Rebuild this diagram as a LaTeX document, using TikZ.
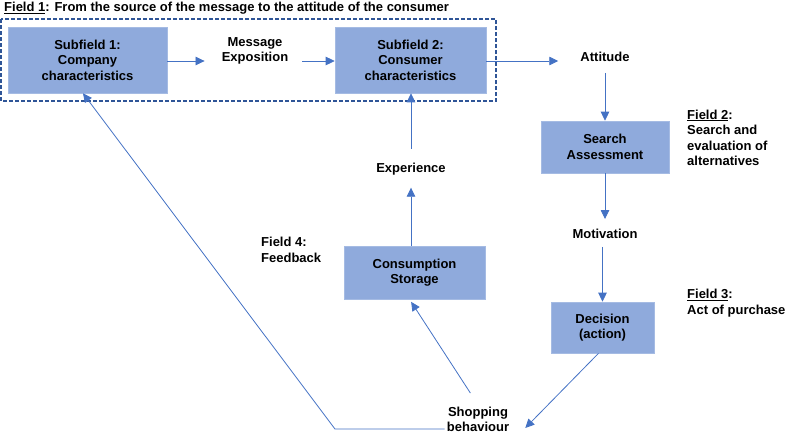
\documentclass[tikz,border=0pt]{standalone}
\usepackage{fontspec}
\setmainfont{Liberation Sans}
\usetikzlibrary{arrows.meta}
\definecolor{boxfill}{HTML}{8FAADC}
\definecolor{arrblue}{HTML}{4472C4}
\definecolor{dashblue}{HTML}{2F5597}
\tikzset{
  stepbox/.style={fill=boxfill, draw=boxfill!80!white, line width=0.6pt, align=center, inner sep=0pt, font=\bfseries\fontsize{13}{15.5}\selectfont},
  lbl/.style={align=center, inner sep=2pt, font=\bfseries\fontsize{13}{15.5}\selectfont},
  lbll/.style={align=left, inner sep=0pt, anchor=north west, font=\bfseries\fontsize{13}{15.5}\selectfont},
  arr/.style={draw=arrblue, line width=0.8pt, -{Triangle[length=9pt,width=8.5pt]}},
}
\begin{document}
\begin{tikzpicture}[x=1pt,y=-1pt]
\useasboundingbox (0,0) rectangle (787,434);
% title
\node[lbll, anchor=west] (title) at (4,8) {\underline{Field 1}: From the source of the message to the attitude of the consumer};
% dashed frame
\draw[dashblue, line width=1.5pt, dash pattern=on 4pt off 2pt] (1,19) rectangle (496,101);
% boxes
\node[stepbox, minimum width=159pt, minimum height=66pt] (sf1) at (87.5,60) {Subfield 1:\\Company\\characteristics};
\node[lbl] (msg) at (255,51) {Message\\Exposition};
\node[stepbox, minimum width=151pt, minimum height=66pt] (sf2) at (410.5,60) {Subfield 2:\\Consumer\\characteristics};
\node[lbl] (att) at (605,57) {Attitude};
\node[stepbox, minimum width=128pt, minimum height=52pt] (search) at (605,147) {Search\\Assessment};
\node[lbl] (mot) at (605,234) {Motivation};
\node[stepbox, minimum width=103pt, minimum height=51pt] (dec) at (602.5,327.5) {Decision\\(action)};
\node[lbl] (shop) at (478,419.5) {Shopping\\behaviour};
\node[stepbox, minimum width=141pt, minimum height=53pt] (cons) at (414.5,272.5) {Consumption\\Storage};
\node[lbl] (exp) at (411,169) {Experience};
% field labels
\node[lbll] (f2) at (687,109.5) {\underline{Field 2}:\\Search and\\evaluation of\\alternatives};
\node[lbll] (f3) at (687,289) {\underline{Field 3}:\\Act of purchase};
\node[lbll] (f4) at (261,237) {Field 4:\\Feedback};
% connectors
\coordinate (c1) at (sf1.east |- 0,61);
\draw[arr, shorten >=15pt] (c1) -- (c1 -| msg.west);
\draw[arr, shorten <=12pt] (msg.east |- c1) -- (sf2.west |- c1);
\draw[arr, shorten >=20pt] (sf2.east |- c1) -- (att.west |- c1);
\draw[arr, shorten <=9pt] (att.south -| search.north) -- (search.north);
\draw[arr, shorten >=8pt] (search.south) -- (mot.north -| search.south);
\draw[arr, shorten <=6pt] (mot.south -| dec.north) -- (dec.north);
\draw[arr] ([xshift=-4pt]dec.south) -- ([xshift=14pt,yshift=-8.5pt]shop.east);
\draw[arr, shorten <=14pt, shorten >=3pt] (shop.north) -- ([xshift=-5pt]cons.south);
\draw[arr] (cons.north -| exp.south) -- ++(0,-58) coordinate (e1);
\draw[arr, shorten <=12pt] (exp.north) -- (exp.north |- sf2.south);
\coordinate (k1) at (335,429);
\draw[arr] (shop.west |- k1) -- (k1) -- ([xshift=-4.5pt]sf1.south);
\end{tikzpicture}
\end{document}
